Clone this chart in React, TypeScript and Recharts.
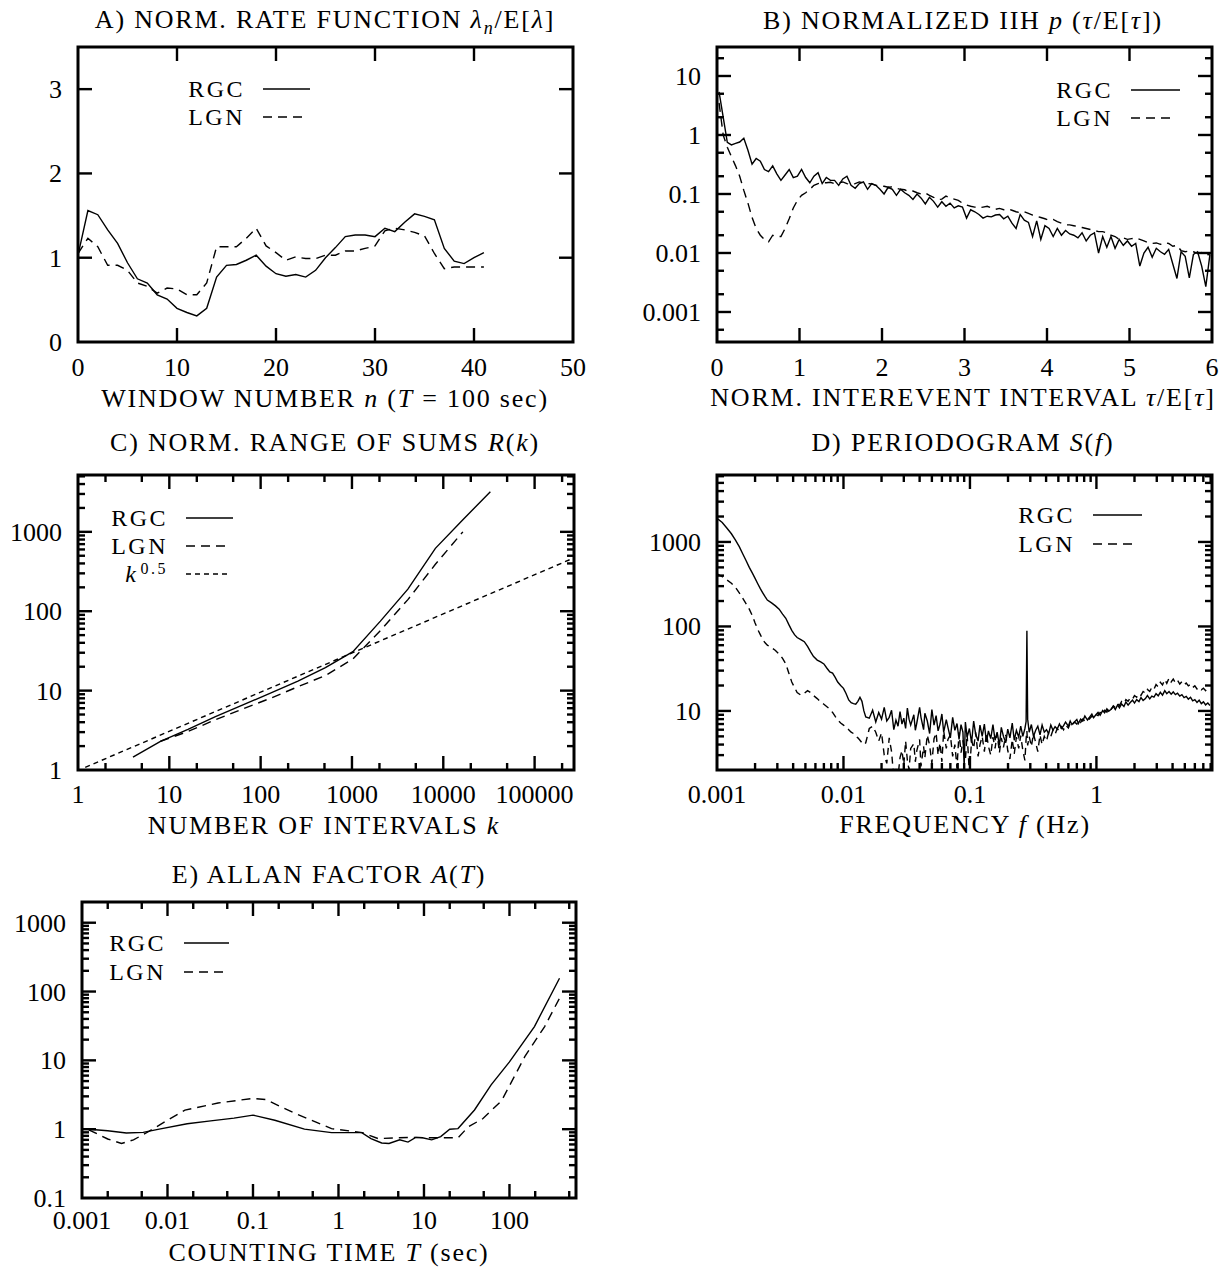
import React from 'react';
import { LineChart, Line, XAxis, YAxis, ReferenceArea } from 'recharts';

const FONT = '"Liberation Serif", "DejaVu Serif", serif';
const FS = 26;
const LS = 1.8;
const LEG_FS = 24;
const LEG_LS = 2.5;

// ---------- Panel A: normalized rate function ----------
const rateWindow = [0,1,2,3,4,5,6,7,8,9,10,11,12,13,14,15,16,17,18,19,20,21,22,23,24,25,26,27,28,29,30,31,32,33,34,35,36,37,38,39,40,41];
const rateRGC = [1.03,1.56,1.51,1.33,1.17,0.94,0.75,0.70,0.56,0.51,0.40,0.35,0.31,0.40,0.77,0.91,0.92,0.97,1.03,0.90,0.81,0.78,0.80,0.77,0.85,1.00,1.12,1.25,1.27,1.27,1.25,1.35,1.31,1.42,1.52,1.49,1.45,1.11,0.96,0.93,1.00,1.06];
const rateLGN = [1.05,1.23,1.13,0.91,0.91,0.85,0.70,0.66,0.58,0.64,0.63,0.56,0.56,0.70,1.13,1.13,1.13,1.23,1.35,1.14,1.06,0.97,1.01,0.99,0.99,1.03,1.03,1.08,1.08,1.11,1.14,1.32,1.35,1.33,1.30,1.26,1.05,0.87,0.89,0.89,0.89,0.89];

// ---------- Panel B: normalized interevent-interval histogram ----------
const iihTau = [
  0.025,0.075,0.125,0.175,0.225,0.275,0.325,0.375,0.425,0.475,
  0.525,0.575,0.625,0.675,0.725,0.775,0.825,0.875,0.925,0.975,
  1.025,1.075,1.125,1.175,1.225,1.275,1.325,1.375,1.425,1.475,
  1.525,1.575,1.625,1.675,1.725,1.775,1.825,1.875,1.925,1.975,
  2.025,2.075,2.125,2.175,2.225,2.275,2.325,2.375,2.425,2.475,
  2.525,2.575,2.625,2.675,2.725,2.775,2.825,2.875,2.925,2.975,
  3.025,3.075,3.125,3.175,3.225,3.275,3.325,3.375,3.425,3.475,
  3.525,3.575,3.625,3.675,3.725,3.775,3.825,3.875,3.925,3.975,
  4.025,4.075,4.125,4.175,4.225,4.275,4.325,4.375,4.425,4.475,
  4.525,4.575,4.625,4.675,4.725,4.775,4.825,4.875,4.925,4.975,
  5.025,5.075,5.125,5.175,5.225,5.275,5.325,5.375,5.425,5.475,
  5.525,5.575,5.625,5.675,5.725,5.775,5.825,5.875,5.925,5.975,
];
const iihRGC = [
  5.4,2.0,0.75,0.68,0.72,0.76,0.88,0.55,0.32,0.40,
  0.36,0.26,0.24,0.30,0.22,0.17,0.21,0.26,0.19,0.20,
  0.26,0.19,0.155,0.20,0.23,0.15,0.19,0.17,0.17,0.14,
  0.18,0.20,0.14,0.125,0.15,0.16,0.12,0.15,0.14,0.12,
  0.10,0.13,0.12,0.095,0.12,0.105,0.095,0.081,0.10,0.085,
  0.068,0.088,0.075,0.06,0.074,0.062,0.07,0.058,0.063,0.06,
  0.039,0.054,0.05,0.045,0.039,0.042,0.041,0.044,0.045,0.038,
  0.042,0.032,0.026,0.045,0.036,0.033,0.019,0.035,0.017,0.029,
  0.026,0.019,0.026,0.02,0.024,0.021,0.02,0.018,0.022,0.016,
  0.02,0.022,0.010,0.019,0.0125,0.019,0.012,0.017,0.0135,0.016,
  0.013,0.0145,0.006,0.01,0.0125,0.0085,0.012,0.0105,0.0095,0.0115,
  0.0065,0.0037,0.0105,0.0088,0.0038,0.0095,0.0105,0.006,0.0027,0.0095,
];
const iihLGN = [
  3.5,1.0,0.62,0.43,0.30,0.20,0.115,0.07,0.04,0.026,
  0.02,0.017,0.0155,0.02,0.019,0.019,0.026,0.038,0.058,0.078,
  0.095,0.105,0.12,0.14,0.15,0.155,0.155,0.158,0.15,0.155,
  0.16,0.15,0.145,0.15,0.16,0.155,0.15,0.148,0.14,0.14,
  0.135,0.13,0.132,0.125,0.12,0.118,0.11,0.112,0.105,0.10,
  0.104,0.095,0.088,0.08,0.082,0.092,0.085,0.082,0.078,0.07,
  0.065,0.062,0.06,0.058,0.06,0.062,0.058,0.055,0.057,0.054,
  0.056,0.053,0.05,0.048,0.05,0.047,0.044,0.042,0.04,0.038,
  0.036,0.037,0.034,0.032,0.03,0.03,0.029,0.028,0.027,0.026,
  0.025,0.024,0.023,0.023,0.022,0.02,0.019,0.017,0.018,0.017,
  0.0175,0.018,0.017,0.016,0.015,0.0145,0.0148,0.014,0.015,0.0145,
  0.013,0.0135,0.011,0.0105,0.0108,0.0105,0.0098,0.0102,0.0095,0.0093,
];

// ---------- Panel C: normalized range of sums ----------
const rangeK = [4,8,16,32,64,128,256,512,1024,2048,4096,8192,16384,32768];
const rangeRGC = [1.45,2.3,3.25,4.7,6.6,9.3,13.2,19.5,31,75,190,620,1420,3200];
const rangeKLGN = [8,16,32,64,128,256,512,1024,2048,4096,8192,16384];
const rangeLGN = [2.3,3.05,4.3,5.9,8.0,11.2,15.5,25,57,140,390,1000];
const refK = [1.2,270000];
const refSqrt = [1.08,470];

// ---------- Panel D: periodogram [f (Hz), S(f)] ----------
const periodRGC: [number, number][] = [
  [0.001,1900],[0.0011,1700],[0.0012,1450],[0.0013,1250],[0.0014,1050],[0.0015,880],[0.0016,720],[0.0017,600],[0.0018,500],[0.0019,430],
  [0.002,370],[0.0021,320],[0.0022,280],[0.0023,250],[0.0024,225],[0.0025,205],[0.0027,190],[0.0029,175],[0.0031,160],[0.0033,140],
  [0.0035,125],[0.0037,105],[0.0039,90],[0.0041,80],[0.0043,74],[0.0046,70],[0.0049,66],[0.0052,58],[0.0055,50],[0.0058,44],
  [0.0062,40],[0.0066,38],[0.007,36],[0.0074,32],[0.0078,29],[0.0082,28],[0.0086,25],[0.009,22],[0.0095,20],[0.01,18.5],
  [0.0105,16],[0.011,13.5],[0.0115,12.5],[0.012,12.2],[0.0125,12],[0.013,13],[0.0135,14.5],[0.014,13],[0.0145,10],[0.015,8.5],
  [0.016,8.2],[0.017,10.2],[0.018,7.4],[0.019,9.6],[0.02,8.0],[0.021,11.0],[0.022,7.6],[0.023,8.4],[0.024,10.2],[0.025,6.0],
  [0.026,7.8],[0.027,6.6],[0.028,9.8],[0.029,7.0],[0.030,8.2],[0.031,6.2],[0.032,10.8],[0.033,8.0],[0.034,6.8],[0.036,9.0],
  [0.037,5.9],[0.038,7.2],[0.040,11.0],[0.041,8.4],[0.043,6.0],[0.044,9.4],[0.046,7.6],[0.048,5.4],[0.050,10.4],[0.052,6.8],
  [0.054,8.8],[0.056,5.8],[0.058,7.0],[0.060,9.2],[0.062,5.6],[0.065,7.9],[0.067,6.4],[0.070,4.8],[0.073,8.4],[0.076,5.9],
  [0.079,7.1],[0.082,4.6],[0.085,6.9],[0.088,5.6],[0.090,2.2],[0.092,7.4],[0.095,4.9],[0.099,6.2],[0.103,4.2],[0.107,7.6],
  [0.111,5.3],[0.116,4.4],[0.120,6.8],[0.125,5.0],[0.130,7.0],[0.135,4.3],[0.140,5.8],[0.146,4.7],[0.152,6.9],[0.158,4.5],
  [0.164,5.6],[0.171,3.9],[0.177,6.4],[0.184,5.0],[0.192,4.2],[0.199,6.1],[0.207,4.8],[0.216,7.2],[0.224,4.5],[0.233,5.9],
  [0.243,4.9],[0.252,6.6],[0.262,5.0],[0.272,6.2],[0.278,7.5],[0.282,89],[0.286,8.0],[0.294,5.6],[0.306,6.9],[0.318,5.0],
  [0.331,5.9],[0.344,6.6],[0.358,5.2],[0.372,6.8],[0.387,5.6],[0.403,6.0],[0.419,5.4],[0.436,6.8],[0.453,5.9],[0.471,6.5],
  [0.49,6.1],[0.51,7.0],[0.53,6.2],[0.55,6.7],[0.57,7.4],[0.6,6.6],[0.62,7.6],[0.64,6.9],[0.67,7.4],[0.7,7.9],
  [0.72,7.1],[0.75,8.0],[0.78,7.6],[0.81,8.7],[0.85,7.8],[0.88,8.4],[0.92,9.2],[0.95,8.3],[0.99,9.0],[1.03,9.6],
  [1.07,8.9],[1.12,10.1],[1.16,9.5],[1.21,10.6],[1.25,9.9],[1.3,10.4],[1.36,11.3],[1.41,10.4],[1.47,11.8],[1.52,10.9],
  [1.58,12.1],[1.65,11.3],[1.71,12.8],[1.78,11.7],[1.85,12.6],[1.93,13.4],[2.0,12.4],[2.08,13.6],[2.17,12.9],[2.25,14.4],
  [2.34,13.3],[2.44,14.0],[2.53,15.2],[2.64,13.9],[2.74,15.0],[2.85,14.6],[2.96,16.0],[3.08,15.1],[3.2,16.6],[3.33,15.4],
  [3.47,17.4],[3.6,16.0],[3.75,17.0],[3.9,15.8],[4.05,16.8],[4.21,15.6],[4.38,16.2],[4.56,15.0],[4.74,15.6],[4.93,14.4],
  [5.13,14.9],[5.33,13.8],[5.55,14.5],[5.77,13.2],[6.0,13.6],[6.24,12.6],[6.49,13.4],[6.75,12.2],[7.02,12.8],[7.3,11.8],
  [7.6,12.4],[7.9,11.6],
];
const periodLGN: [number, number][] = [
  [0.001,420],[0.0011,390],[0.0012,355],[0.0013,325],[0.0014,290],[0.0015,250],[0.0016,215],[0.0017,185],[0.0018,160],[0.0019,135],
  [0.002,110],[0.0021,92],[0.0022,80],[0.0023,70],[0.0024,64],[0.0025,60],[0.0027,56],[0.0029,52],[0.0031,47],[0.0033,42],
  [0.0035,36],[0.0037,28],[0.0039,22],[0.0041,19],[0.0043,16.5],[0.0046,15.4],[0.0049,16.2],[0.0052,17.4],[0.0055,16.5],[0.0058,15.2],
  [0.0062,14.0],[0.0066,12.8],[0.007,12],[0.0074,11.2],[0.0078,10.5],[0.0082,9.6],[0.0086,8.6],[0.009,7.8],[0.0095,7.2],[0.01,6.8],
  [0.0105,6.4],[0.011,6.0],[0.0115,5.6],[0.012,5.4],[0.0125,5.0],[0.013,4.8],[0.0135,4.5],[0.014,4.2],[0.0145,4.0],[0.015,4.2],
  [0.016,6.2],[0.017,6.6],[0.018,5.6],[0.019,4.4],[0.02,5.5],[0.021,3.0],[0.022,2.4],[0.023,4.8],[0.024,3.3],[0.025,1.6],
  [0.026,2.2],[0.027,1.7],[0.028,2.8],[0.029,3.4],[0.030,2.3],[0.031,4.4],[0.032,2.6],[0.033,2.0],[0.034,3.6],[0.036,4.1],
  [0.037,2.5],[0.038,3.4],[0.040,4.6],[0.041,2.2],[0.043,3.8],[0.044,2.8],[0.046,5.2],[0.048,3.9],[0.050,2.4],[0.052,4.7],
  [0.054,5.5],[0.056,3.0],[0.058,4.2],[0.060,2.5],[0.062,5.8],[0.065,3.6],[0.067,4.6],[0.070,5.2],[0.073,2.9],[0.076,4.0],
  [0.079,2.1],[0.082,5.6],[0.085,3.2],[0.088,4.5],[0.092,2.6],[0.095,5.3],[0.099,1.8],[0.103,4.5],[0.107,3.6],[0.111,5.6],
  [0.116,2.9],[0.120,4.0],[0.125,5.0],[0.130,3.3],[0.135,5.5],[0.140,3.8],[0.146,3.0],[0.152,4.9],[0.158,3.6],[0.164,5.4],
  [0.171,3.2],[0.177,4.8],[0.184,3.7],[0.192,5.2],[0.199,3.4],[0.207,2.7],[0.216,4.6],[0.224,3.1],[0.233,4.9],[0.243,3.6],
  [0.252,5.1],[0.262,3.4],[0.272,2.6],[0.278,4.7],[0.282,5.8],[0.286,3.9],[0.294,5.0],[0.306,3.8],[0.318,5.4],[0.331,4.2],
  [0.344,3.3],[0.358,5.2],[0.372,4.0],[0.387,5.0],[0.403,4.4],[0.419,5.6],[0.436,5.0],[0.453,5.9],[0.471,5.3],[0.49,6.2],
  [0.51,5.7],[0.53,6.5],[0.55,6.0],[0.57,6.8],[0.6,6.3],[0.62,7.1],[0.64,6.7],[0.67,7.4],[0.7,7.0],[0.72,7.7],
  [0.75,7.3],[0.78,8.0],[0.81,7.6],[0.85,8.3],[0.88,8.0],[0.92,8.7],[0.95,8.4],[0.99,9.1],[1.03,8.8],[1.07,9.6],
  [1.12,9.2],[1.16,10.2],[1.21,9.7],[1.25,10.9],[1.3,10.3],[1.36,11.5],[1.41,11.0],[1.47,12.2],[1.52,11.6],[1.58,12.9],
  [1.65,12.3],[1.71,13.6],[1.78,13.0],[1.85,14.3],[1.93,13.8],[2.0,15.2],[2.08,14.5],[2.17,16.0],[2.25,15.3],[2.34,17.0],
  [2.44,16.2],[2.53,18.0],[2.64,17.0],[2.74,19.0],[2.85,18.0],[2.96,20.5],[3.08,19.2],[3.2,21.8],[3.33,20.3],[3.47,23.5],
  [3.6,21.2],[3.75,24.5],[3.9,22.0],[4.05,23.8],[4.21,21.5],[4.38,23.0],[4.56,20.8],[4.74,22.2],[4.93,20.4],[5.13,21.4],
  [5.33,19.8],[5.55,20.6],[5.77,18.9],[6.0,19.8],[6.24,18.2],[6.49,19.0],[6.75,17.8],[7.02,18.6],[7.3,17.4],[7.6,18.8],
  [7.9,19.4],
];

// ---------- Panel E: Allan factor [T (sec), A(T)] ----------
const allanRGC: [number, number][] = [
  [0.0012,1.0],[0.002,0.95],[0.0033,0.88],[0.0052,0.9],[0.008,1.0],[0.017,1.2],[0.032,1.32],[0.06,1.45],[0.1,1.6],[0.18,1.35],
  [0.4,1.0],[0.83,0.89],[1.87,0.89],[2.4,0.73],[3.2,0.63],[3.9,0.62],[5.2,0.7],[6.5,0.65],[8,0.76],[9.6,0.75],
  [12.3,0.7],[15.7,0.78],[20,1.0],[25,1.02],[39,1.9],[61,4.4],[100,9.5],[196,31],[385,156],
];
const allanLGN: [number, number][] = [
  [0.0012,0.98],[0.002,0.72],[0.0029,0.62],[0.004,0.7],[0.0059,0.91],[0.01,1.35],[0.016,1.89],[0.039,2.4],[0.1,2.8],[0.14,2.7],
  [0.31,1.7],[0.83,1.02],[1.9,0.89],[2.9,0.73],[4.9,0.75],[7.3,0.76],[11,0.75],[25,0.75],[33,1.08],[49,1.43],
  [81,2.6],[151,11.3],[258,31],[385,80],
];

// ---------- tick lists ----------
const decadeMinors = (from: number, to: number, mult: number[]) => {
  const out: number[] = [];
  for (let d = from; d <= to; d++) for (const m of mult) out.push(+(m * Math.pow(10, d)).toPrecision(3));
  return out;
};

const toXY = (xs: number[], ys: number[]) => xs.map((x, i) => ({ x, y: ys[i] }));
const pairXY = (p: [number, number][]) => p.map(([x, y]) => ({ x, y }));

type Frame = { l: number; t: number; r: number; b: number };
type Series = { data: { x: number; y: number }[]; dash?: string };

const PAD = { l: 90, t: 20, r: 20, b: 60 };
const MAJ = 14;
const MIN = 7;

interface PanelProps {
  frame: Frame;
  xDomain: [number, number];
  yDomain: [number, number];
  xLog?: boolean;
  yLog?: boolean;
  xMajors: number[];
  xMinors?: number[];
  yMajors: number[];
  yMinors?: number[];
  series: Series[];
  labelDy?: number;
}

function Panel(p: PanelProps) {
  const w = p.frame.r - p.frame.l;
  const h = p.frame.b - p.frame.t;
  const xMaj = new Set(p.xMajors);
  const yMaj = new Set(p.yMajors);
  const labelDy = p.labelDy ?? 34;
  const inDom = (v: number, d: [number, number]) => v >= d[0] && v <= d[1];
  const xTicks = [...p.xMajors, ...(p.xMinors || [])].filter((v) => inDom(v, p.xDomain)).sort((a, b) => a - b);
  const yTicks = [...p.yMajors, ...(p.yMinors || [])].filter((v) => inDom(v, p.yDomain)).sort((a, b) => a - b);

  const xTick = (props: any) => {
    const { x, y, payload } = props;
    const v = payload.value;
    const major = xMaj.has(v);
    const len = major ? MAJ : MIN;
    const edge = Math.abs(x - PAD.l) < 1 || Math.abs(x - (PAD.l + w)) < 1;
    return (
      <g>
        {!edge && <line x1={x} y1={y} x2={x} y2={y - len} stroke="#000" strokeWidth={2.4} />}
        {!edge && <line x1={x} y1={y - h} x2={x} y2={y - h + len} stroke="#000" strokeWidth={2.4} />}
        {major && (
          <text x={x} y={y + labelDy} textAnchor="middle" fontFamily={FONT} fontSize={FS} fill="#000">
            {String(v)}
          </text>
        )}
      </g>
    );
  };
  const yTick = (props: any) => {
    const { x, y, payload } = props;
    const v = payload.value;
    const major = yMaj.has(v);
    const len = major ? MAJ : MIN;
    const edge = Math.abs(y - PAD.t) < 1 || Math.abs(y - (PAD.t + h)) < 1;
    return (
      <g>
        {!edge && <line x1={x} y1={y} x2={x + len} y2={y} stroke="#000" strokeWidth={2.4} />}
        {!edge && <line x1={x + w} y1={y} x2={x + w - len} y2={y} stroke="#000" strokeWidth={2.4} />}
        {major && (
          <text x={x - 16} y={y + 9} textAnchor="end" fontFamily={FONT} fontSize={FS} fill="#000">
            {String(v)}
          </text>
        )}
      </g>
    );
  };

  return (
    <div style={{ position: 'absolute', left: p.frame.l - PAD.l, top: p.frame.t - PAD.t }}>
      <LineChart
        width={w + PAD.l + PAD.r}
        height={h + PAD.t + PAD.b}
        margin={{ top: PAD.t, right: PAD.r, bottom: 0, left: 0 }}
      >
        <XAxis
          type="number"
          dataKey="x"
          domain={p.xDomain}
          scale={p.xLog ? 'log' : 'linear'}
          ticks={xTicks}
          interval={0}
          tickSize={0}
          tickMargin={0}
          height={PAD.b}
          axisLine={false}
          tickLine={false}
          allowDataOverflow
          tick={xTick}
        />
        <YAxis
          type="number"
          domain={p.yDomain}
          scale={p.yLog ? 'log' : 'linear'}
          ticks={yTicks}
          interval={0}
          tickSize={0}
          tickMargin={0}
          width={PAD.l}
          axisLine={false}
          tickLine={false}
          allowDataOverflow
          tick={yTick}
        />
        {p.series.map((s, i) => (
          <Line
            key={i}
            data={s.data}
            dataKey="y"
            type="linear"
            dot={false}
            activeDot={false}
            stroke="#000"
            strokeWidth={1.4}
            strokeDasharray={s.dash}
            isAnimationActive={false}
          />
        ))}
        <ReferenceArea
          x1={p.xDomain[0]}
          x2={p.xDomain[1]}
          y1={p.yDomain[0]}
          y2={p.yDomain[1]}
          fill="none"
          fillOpacity={0}
          stroke="#000"
          strokeWidth={3}
          ifOverflow="visible"
        />
      </LineChart>
    </div>
  );
}

const DASH = '9 6';
const DOT = '5 4';

function LegendRow({ xEnd, yc, label, dash, len }: { xEnd: number; yc: number; label: React.ReactNode; dash?: string; len: number }) {
  return (
    <g>
      <text x={xEnd} y={yc + 8} textAnchor="end" fontSize={LEG_FS} style={{ letterSpacing: `${LEG_LS}px` }}>
        {label}
      </text>
      <line x1={xEnd + 18} y1={yc} x2={xEnd + 18 + len} y2={yc} stroke="#000" strokeWidth={1.4} strokeDasharray={dash} />
    </g>
  );
}

const it = (s: string) => <tspan fontStyle="italic">{s}</tspan>;

export default function App() {
  return (
    <div style={{ position: 'absolute', left: 0, top: 0, width: 1229, height: 1269, background: '#fff' }}>
      <Panel
        frame={{ l: 78, t: 47, r: 573, b: 342 }}
        xDomain={[0, 50]}
        yDomain={[0, 3.5]}
        xMajors={[0, 10, 20, 30, 40, 50]}
        yMajors={[0, 1, 2, 3]}
        series={[{ data: toXY(rateWindow, rateRGC) }, { data: toXY(rateWindow, rateLGN), dash: DASH }]}
      />
      <Panel
        frame={{ l: 717, t: 47, r: 1212, b: 342 }}
        xDomain={[0, 6]}
        yDomain={[0.00031, 31]}
        yLog
        xMajors={[0, 1, 2, 3, 4, 5, 6]}
        yMajors={[0.001, 0.01, 0.1, 1, 10]}
        yMinors={decadeMinors(-4, 1, [2, 5])}
        series={[{ data: toXY(iihTau, iihRGC) }, { data: toXY(iihTau, iihLGN), dash: DASH }]}
      />
      <Panel
        frame={{ l: 78, t: 475, r: 574, b: 770 }}
        xDomain={[1, 270000]}
        yDomain={[1, 5200]}
        xLog
        yLog
        xMajors={[1, 10, 100, 1000, 10000, 100000]}
        xMinors={decadeMinors(0, 5, [2, 5])}
        yMajors={[1, 10, 100, 1000]}
        yMinors={decadeMinors(0, 3, [2, 3, 4, 5, 6, 7, 8, 9])}
        labelDy={33}
        series={[
          { data: toXY(rangeK, rangeRGC) },
          { data: toXY(rangeKLGN, rangeLGN), dash: DASH },
          { data: toXY(refK, refSqrt), dash: DOT },
        ]}
      />
      <Panel
        frame={{ l: 717, t: 475, r: 1212, b: 770 }}
        xDomain={[0.001, 8.2]}
        yDomain={[2, 6200]}
        xLog
        yLog
        xMajors={[0.001, 0.01, 0.1, 1]}
        xMinors={decadeMinors(-3, 0, [2, 3, 4, 5, 6, 7, 8, 9])}
        yMajors={[10, 100, 1000]}
        yMinors={decadeMinors(0, 3, [2, 3, 4, 5, 6, 7, 8, 9])}
        labelDy={33}
        series={[{ data: pairXY(periodRGC) }, { data: pairXY(periodLGN), dash: '7 5' }]}
      />
      <Panel
        frame={{ l: 82, t: 902, r: 576, b: 1198 }}
        xDomain={[0.001, 600]}
        yDomain={[0.1, 2000]}
        xLog
        yLog
        xMajors={[0.001, 0.01, 0.1, 1, 10, 100]}
        xMinors={decadeMinors(-3, 2, [2, 5])}
        yMajors={[0.1, 1, 10, 100, 1000]}
        yMinors={decadeMinors(-1, 3, [2, 3, 4, 5, 6, 7, 8, 9])}
        labelDy={31}
        series={[{ data: pairXY(allanRGC) }, { data: pairXY(allanLGN), dash: DASH }]}
      />

      <svg
        width={1229}
        height={1269}
        style={{ position: 'absolute', left: 0, top: 0, pointerEvents: 'none', letterSpacing: `${LS}px` }}
        fontFamily={FONT}
        fontSize={FS}
      >
        {/* titles */}
        <text x={325} y={28} textAnchor="middle">
          A) NORM. RATE FUNCTION {it('λ')}
          <tspan fontStyle="italic" fontSize={18} dy={6}>n</tspan>
          <tspan dy={-6}>/E[</tspan>
          {it('λ')}]
        </text>
        <text x={963} y={29} textAnchor="middle">
          B) NORMALIZED IIH {it('p')} ({it('τ')}/E[{it('τ')}])
        </text>
        <text x={325} y={451} textAnchor="middle">
          C) NORM. RANGE OF SUMS {it('R')}({it('k')})
        </text>
        <text x={963} y={451} textAnchor="middle">
          D) PERIODOGRAM {it('S')}({it('f')})
        </text>
        <text x={329} y={883} textAnchor="middle">
          E) ALLAN FACTOR {it('A')}({it('T')})
        </text>

        {/* axis titles */}
        <text x={325} y={407} textAnchor="middle">
          WINDOW NUMBER {it('n')} ({it('T')} = 100 sec)
        </text>
        <text x={963} y={406} textAnchor="middle">
          NORM. INTEREVENT INTERVAL {it('τ')}/E[{it('τ')}]
        </text>
        <text x={324} y={834} textAnchor="middle">
          NUMBER OF INTERVALS {it('k')}
        </text>
        <text x={965} y={833} textAnchor="middle">
          FREQUENCY {it('f')} (Hz)
        </text>
        <text x={329} y={1261} textAnchor="middle">
          COUNTING TIME {it('T')} (sec)
        </text>

        {/* legends */}
        <LegendRow xEnd={245} yc={89} label="RGC" len={47} />
        <LegendRow xEnd={245} yc={117} label="LGN" len={43} dash={DASH} />

        <LegendRow xEnd={1113} yc={90} label="RGC" len={49} />
        <LegendRow xEnd={1113} yc={118} label="LGN" len={43} dash={DASH} />

        <LegendRow xEnd={168} yc={518} label="RGC" len={47} />
        <LegendRow xEnd={168} yc={546} label="LGN" len={43} dash={DASH} />
        <LegendRow
          xEnd={168}
          yc={574}
          label={
            <>
              {it('k')}
              <tspan fontSize={16} dx={2} dy={-8}>0.5</tspan>
            </>
          }
          len={45}
          dash={DOT}
        />

        <LegendRow xEnd={1075} yc={515} label="RGC" len={49} />
        <LegendRow xEnd={1075} yc={544} label="LGN" len={43} dash={DASH} />

        <LegendRow xEnd={166} yc={943} label="RGC" len={45} />
        <LegendRow xEnd={166} yc={972} label="LGN" len={41} dash={DASH} />
      </svg>
    </div>
  );
}
